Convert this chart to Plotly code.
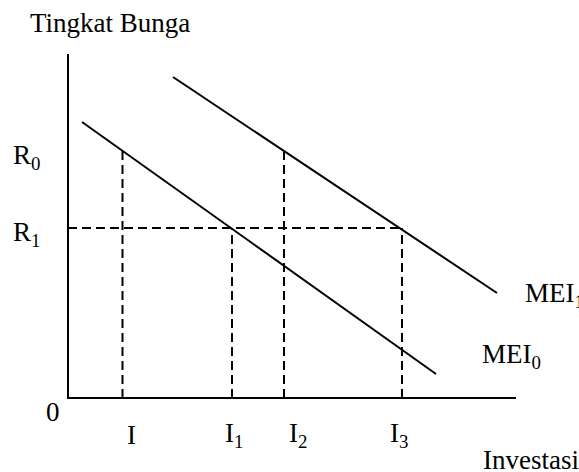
import plotly.graph_objects as go

# Investment levels on the horizontal axis and the interest rate read at each
invest_names = ["I", "I<sub>1</sub>", "I<sub>2</sub>", "I<sub>3</sub>"]
invest_levels = [54.5, 164, 216, 334]
invest_rates = [247, 170, 247, 170]

# Interest rate levels on the vertical axis
rate_names = ["R<sub>0</sub>", "R<sub>1</sub>"]
rate_levels = [247, 170]

# Marginal efficiency of investment schedules (end points)
mei0_x = [14, 368]
mei0_y = [276, 24]
mei1_x = [105, 429]
mei1_y = [321, 105]

# Extent of the drawn axes
axis_x_end = 448
axis_y_end = 344

FONT = "Liberation Serif, Times New Roman, serif"
FS = 27
BLACK = "#000000"

fig = go.Figure()

# axes
fig.add_trace(go.Scatter(x=[0, 0, axis_x_end], y=[axis_y_end, 0, 0], mode="lines",
                         line=dict(color=BLACK, width=2), hoverinfo="skip"))

# dashed guides: verticals from each investment level up to its rate
for lvl, rt in zip(invest_levels, invest_rates):
    fig.add_trace(go.Scatter(x=[lvl, lvl], y=[0, rt], mode="lines",
                             line=dict(color=BLACK, width=2, dash="9px,5px"),
                             hoverinfo="skip"))
# horizontal guide at R1 out to I3
fig.add_trace(go.Scatter(x=[0, invest_levels[3]], y=[rate_levels[1], rate_levels[1]],
                         mode="lines", line=dict(color=BLACK, width=2, dash="9px,5px"),
                         hoverinfo="skip"))

# MEI schedules
for xs, ys in ((mei0_x, mei0_y), (mei1_x, mei1_y)):
    fig.add_trace(go.Scatter(x=xs, y=ys, mode="lines",
                             line=dict(color=BLACK, width=2), hoverinfo="skip"))

ann = []
def label(text, x, y, xanchor="center", xshift=0, yshift=0):
    ann.append(dict(text=text, x=x, y=y, xref="x", yref="y", showarrow=False,
                    xanchor=xanchor, yanchor="middle", xshift=xshift, yshift=yshift,
                    font=dict(family=FONT, size=FS, color=BLACK)))

label("Tingkat Bunga", -40, 375, xanchor="left")
for name, r in zip(rate_names, rate_levels):
    label(name, -57, r, xanchor="left", yshift=-6)
label("0", -15, -14)
for name, lvl, sh in zip(invest_names, invest_levels, [9, 2, 14, -3]):
    label(name, lvl, -37, xshift=sh)
label("MEI<sub>0</sub>", mei0_x[1] + 44, mei0_y[1] + 18, xanchor="left")
label("MEI<sub>1</sub>", mei1_x[1] + 26, mei1_y[1] - 2, xanchor="left")
label("Investasi", 413, -62, xanchor="left")

fig.update_layout(
    width=579, height=472,
    margin=dict(l=0, r=0, t=0, b=0),
    paper_bgcolor="white", plot_bgcolor="white",
    showlegend=False,
    xaxis=dict(range=[-68, 511], visible=False, fixedrange=True),
    yaxis=dict(range=[-74, 398], visible=False, fixedrange=True),
    annotations=ann,
)

fig.write_html("out.html")
